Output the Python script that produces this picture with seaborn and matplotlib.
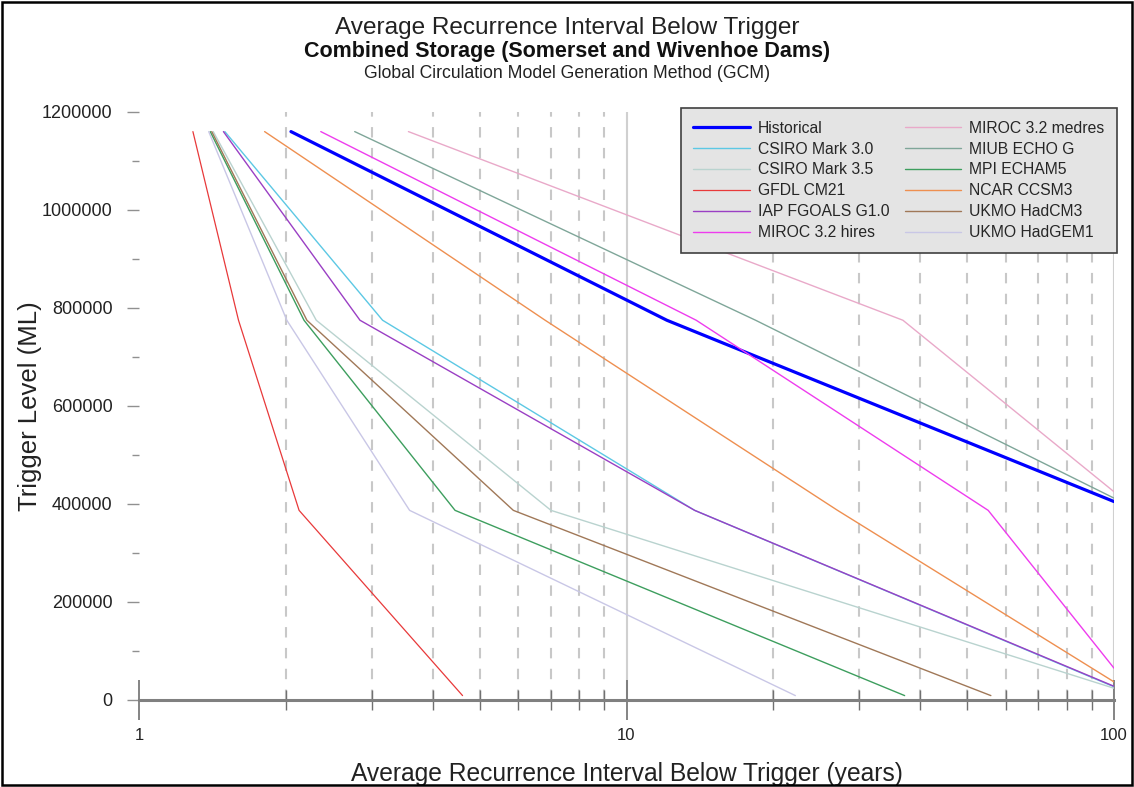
import numpy as np
import pandas as pd
import matplotlib
matplotlib.use("Agg")
import matplotlib.pyplot as plt
from matplotlib.patches import Rectangle
from matplotlib.ticker import FixedLocator, MultipleLocator, NullFormatter
import seaborn as sns

# series (interval in years, trigger level in ML)
models = ["Historical", "CSIRO Mark 3.0", "CSIRO Mark 3.5", "GFDL CM21",
          "IAP FGOALS G1.0", "MIROC 3.2 hires", "MIROC 3.2 medres",
          "MIUB ECHO G", "MPI ECHAM5", "NCAR CCSM3", "UKMO HadCM3", "UKMO HadGEM1"]

hist_x = [2.05, 12.1, 100]
hist_y = [1160000, 775000, 405000]
csiro30_x = [1.50, 3.16, 13.8, 100]
csiro30_y = [1160000, 775000, 387000, 27000]
csiro35_x = [1.42, 2.31, 7.0, 100]
csiro35_y = [1160000, 775000, 387000, 24000]
gfdl_x = [1.29, 1.60, 2.13, 4.61]
gfdl_y = [1160000, 775000, 387000, 9000]
iap_x = [1.49, 2.84, 13.8, 100]
iap_y = [1160000, 775000, 387000, 28000]
hires_x = [2.36, 13.9, 55.2, 100]
hires_y = [1160000, 775000, 387000, 65000]
medres_x = [3.57, 36.9, 100]
medres_y = [1160000, 775000, 425000]
miub_x = [2.77, 18.4, 100]
miub_y = [1160000, 775000, 412000]
mpi_x = [1.40, 2.18, 4.45, 37.2]
mpi_y = [1160000, 775000, 387000, 9000]
ncar_x = [1.81, 6.81, 27.1, 100]
ncar_y = [1160000, 775000, 387000, 37000]
hadcm3_x = [1.41, 2.21, 5.86, 55.9]
hadcm3_y = [1160000, 775000, 387000, 9000]
hadgem1_x = [1.39, 2.01, 3.59, 22.2]
hadgem1_y = [1160000, 775000, 387000, 9000]

colors = ["#0000ff", "#5cc8e4", "#b9d3cf", "#e8393a", "#9a3fc4", "#ee3cee",
          "#e9a9c9", "#7fa699", "#3d9e5e", "#ee8f50", "#a07858", "#c9c7e6"]
widths = [2.3, 1.0, 1.0, 0.9, 1.0, 1.0, 1.0, 1.0, 1.0, 1.0, 1.0, 1.0]

xs = [hist_x, csiro30_x, csiro35_x, gfdl_x, iap_x, hires_x, medres_x,
      miub_x, mpi_x, ncar_x, hadcm3_x, hadgem1_x]
ys = [hist_y, csiro30_y, csiro35_y, gfdl_y, iap_y, hires_y, medres_y,
      miub_y, mpi_y, ncar_y, hadcm3_y, hadgem1_y]

rows = []
for name, x, y in zip(models, xs, ys):
    for i, (a, b) in enumerate(zip(x, y)):
        rows.append({"model": name, "step": i, "interval": a, "level": b})
df = pd.DataFrame(rows)

sns.set_style("white")
plt.rcParams["font.family"] = ["Liberation Sans", "DejaVu Sans"]

fig = plt.figure(figsize=(11.34, 7.87), dpi=100)
ax = fig.add_axes([139 / 1134, 1 - 700 / 787, 975 / 1134, 588 / 787])

for name, col, lw in zip(models, colors, widths):
    sns.lineplot(data=df[df.model == name], x="interval", y="level", sort=False,
                 estimator=None, color=col, linewidth=lw, label=name, ax=ax)

ax.set_xscale("log")
ax.set_xlim(1, 100)
ax.set_ylim(0, 1200000)

ax.xaxis.set_major_locator(FixedLocator([1, 10, 100]))
ax.set_xticklabels(["1", "10", "100"])
ax.xaxis.set_minor_locator(FixedLocator([2, 3, 4, 5, 6, 7, 8, 9,
                                         20, 30, 40, 50, 60, 70, 80, 90]))
ax.xaxis.set_minor_formatter(NullFormatter())
ax.set_yticks(np.arange(0, 1200001, 200000))
ax.set_yticklabels([str(v) for v in range(0, 1200001, 200000)])
ax.yaxis.set_minor_locator(MultipleLocator(100000))

ax.tick_params(axis="x", which="major", direction="inout", length=29, width=1.2,
               color="#707070", labelsize=12, pad=6, labelcolor="#222222")
ax.tick_params(axis="x", which="minor", direction="inout", length=14, width=1.0,
               color="#707070")
ax.tick_params(axis="y", which="major", direction="out", length=9, width=1.0,
               color="#909090", labelsize=13, pad=10, labelcolor="#222222")
ax.tick_params(axis="y", which="minor", direction="out", length=5, width=1.0,
               color="#909090")
ax.tick_params(left=True, bottom=True, which="both")

ax.grid(False)
ax.grid(which="minor", axis="x", color="#c8c8c8", linestyle=(0, (5, 5)), linewidth=1.5)
ax.grid(which="major", axis="x", color="#d0d0d0", linestyle="-", linewidth=1.5)
ax.get_xgridlines()[0].set_visible(False)

for s in ["top", "right", "left"]:
    ax.spines[s].set_visible(False)
ax.spines["bottom"].set_color("#808080")
ax.spines["bottom"].set_linewidth(2.2)

ax.set_xlabel("Average Recurrence Interval Below Trigger (years)", fontsize=17.7,
              labelpad=13, color="#222222")
ax.set_ylabel("Trigger Level (ML)", fontsize=18.5, labelpad=0, color="#222222")

fig.text(0.5, 1 - 28 / 787, "Average Recurrence Interval Below Trigger",
         ha="center", va="center", fontsize=17.6, color="#222222")
fig.text(0.5, 1 - 51 / 787, "Combined Storage (Somerset and Wivenhoe Dams)",
         ha="center", va="center", fontsize=15.5, fontweight="bold", color="#111111")
fig.text(0.5, 1 - 73 / 787, "Global Circulation Model Generation Method (GCM)",
         ha="center", va="center", fontsize=12.7, color="#222222")

leg = ax.legend(ncol=2, loc="upper right", bbox_to_anchor=(1117 / 1134, 1 - 108 / 787),
                bbox_transform=fig.transFigure, borderaxespad=0, fontsize=11.3,
                handlelength=3.6, handletextpad=0.5, columnspacing=1.0,
                labelspacing=0.38, frameon=True, fancybox=False, borderpad=0.8)
leg.get_frame().set_facecolor("#e4e4e4")
leg.get_frame().set_edgecolor("#404040")
leg.get_frame().set_linewidth(1.2)
leg.get_frame().set_alpha(1)

fig.patches.append(Rectangle((0.002, 0.003), 0.996, 0.994, transform=fig.transFigure,
                             fill=False, edgecolor="black", linewidth=1.8))

fig.savefig("out.png", dpi=100)
